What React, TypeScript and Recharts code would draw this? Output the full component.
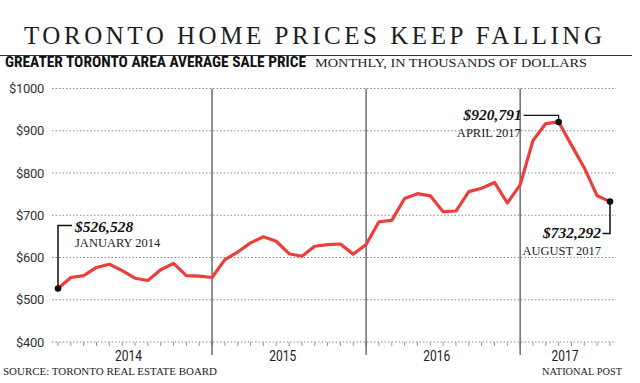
import { LineChart, Line, XAxis, YAxis, CartesianGrid, ReferenceLine } from 'recharts';

// GTA average sale price, thousands of dollars, Jan 2014 - Aug 2017
const years = ['2014', '2015', '2016', '2017'];
const monthsPerYear = [12, 12, 12, 8];
const prices = [
  526.5, 552.7, 557, 576.5, 584, 569, 551, 545.5, 571, 586, 557, 556,
  552.7, 595, 613, 634.5, 649, 638.5, 609, 603, 626.6, 630.6, 632, 608,
  630.6, 684.6, 688, 739.5, 751, 746, 708.5, 710, 756, 764, 777.6, 729,
  772, 877, 917, 920.8, 866, 812, 746, 732.3,
];
const yTicks = [400, 500, 600, 700, 800, 900, 1000];
const annotations = [
  { index: 0, amount: '$526,528', label: 'JANUARY 2014' },
  { index: 39, amount: '$920,791', label: 'APRIL 2017' },
  { index: 43, amount: '$732,292', label: 'AUGUST 2017' },
];

const data = prices.map((v, i) => ({ i, v }));
const yearStarts = monthsPerYear.map((_, k) => monthsPerYear.slice(0, k).reduce((a, b) => a + b, 0));
const yearMids = yearStarts.map((s, k) => s + (monthsPerYear[k] - 1) / 2);
const monthTicks = data.map((d) => d.i);

const SERIF = "'Liberation Serif', 'DejaVu Serif', serif";
const SANS = "Roboto, 'Liberation Sans', sans-serif";
const RED = '#ec3f3c';

const XTick = (props: any) => {
  const { x, y, payload } = props;
  const v = payload.value;
  if (!Number.isInteger(v)) {
    const k = yearMids.indexOf(v);
    return (
      <text x={x} y={y + 19} textAnchor="middle" fill="#222" fontSize={14} fontFamily={SANS}
        textLength={27} lengthAdjust="spacingAndGlyphs">
        {years[k]}
      </text>
    );
  }
  const divider = v > 0 && yearStarts.includes(v);
  return (
    <g>
      <line x1={x} x2={x} y1={y} y2={y + 4} stroke="#999" />
      {divider && <line x1={x} x2={x} y1={y} y2={y + 13} stroke="#555" strokeWidth={1.3} />}
    </g>
  );
};

const renderDot = (props: any) => {
  const { cx, cy, index } = props;
  const note = annotations.find((a) => a.index === index);
  if (!note) return <g key={index} />;
  const amt = { fontFamily: SERIF, fontStyle: 'italic', fontWeight: 700, fontSize: 15.5, fill: '#111' } as const;
  const lab = { fontFamily: SERIF, fontSize: 12.5, fill: '#222' } as const;
  if (index === 0) {
    return (
      <g key={index}>
        <path d={`M${cx},${cy} V${cy - 63} H${cx + 14}`} fill="none" stroke="#111" strokeWidth={1.5} />
        <circle cx={cx} cy={cy} r={3.3} fill="#111" />
        <text x={cx + 17} y={cy - 57} {...amt}>{note.amount}</text>
        <text x={cx + 17} y={cy - 42} {...lab}>{note.label}</text>
      </g>
    );
  }
  if (index === 39) {
    return (
      <g key={index}>
        <path d={`M${cx},${cy} V${cy - 6.5} H${cx - 35}`} fill="none" stroke="#111" strokeWidth={1.2} />
        <circle cx={cx} cy={cy} r={3.3} fill="#111" />
        <text x={cx - 37} y={cy - 1.5} textAnchor="end" {...amt}>{note.amount}</text>
        <text x={cx - 38} y={cy + 15} textAnchor="end" {...lab}>{note.label}</text>
      </g>
    );
  }
  return (
    <g key={index}>
      <path d={`M${cx},${cy} V${cy + 32} H${cx - 7.5}`} fill="none" stroke="#111" strokeWidth={1.5} />
      <circle cx={cx} cy={cy} r={3.3} fill="#111" />
      <text x={cx - 9} y={cy + 36.5} textAnchor="end" {...amt}>{note.amount}</text>
      <text x={cx - 9} y={cy + 53} textAnchor="end" {...lab}>{note.label}</text>
    </g>
  );
};

export default function App() {
  return (
    <div style={{ position: 'absolute', left: 0, top: 0, width: 640, height: 383, background: '#fff' }}>
      <LineChart width={640} height={383} data={data} margin={{ top: 88.5, right: 24, bottom: 11, left: 8 }}>
        <CartesianGrid vertical={false} stroke="#8a8a8a" strokeDasharray="1.5 2" />
        <XAxis
          dataKey="i"
          type="number"
          domain={[0, prices.length - 1]}
          ticks={[...monthTicks, ...yearMids]}
          padding={{ left: 6, right: 6 }}
          axisLine={false}
          tickLine={false}
          tickSize={0}
          tickMargin={0}
          height={30}
          interval={0}
          tick={<XTick />}
        />
        <YAxis
          domain={[400, 1000]}
          ticks={yTicks}
          width={44}
          axisLine={false}
          tickLine={false}
          tickFormatter={(v) => `$${v}`}
          tick={{ fill: '#333', fontSize: 13, fontFamily: SANS, letterSpacing: -0.3 }}
        />
        {yearStarts.slice(1).map((s) => (
          <ReferenceLine key={s} x={s} stroke="#555" strokeWidth={1.3} />
        ))}
        <Line
          type="linear"
          dataKey="v"
          stroke={RED}
          strokeWidth={3.2}
          strokeLinejoin="round"
          dot={renderDot}
          activeDot={false}
          isAnimationActive={false}
        />
      </LineChart>
      <svg width={640} height={383} style={{ position: 'absolute', left: 0, top: 0, pointerEvents: 'none' }}>
        <text x={24} y={44.3} fontFamily={SERIF} fontSize={25} fill="#1e1e1e" textLength={578} lengthAdjust="spacing">
          TORONTO HOME PRICES KEEP FALLING
        </text>
        <line x1={0} x2={632} y1={55.5} y2={55.5} stroke="#333" strokeWidth={1} />
        <text x={5} y={66.7} fontFamily={"'Liberation Sans Narrow', 'Roboto Condensed', Roboto, sans-serif"} fontWeight={700}
          fontSize={14} fill="#111" textLength={301} lengthAdjust="spacingAndGlyphs">
          GREATER TORONTO AREA AVERAGE SALE PRICE
        </text>
        <text x={315} y={66.7} fontFamily={SERIF} fontSize={11.5} fill="#222" textLength={272} lengthAdjust="spacingAndGlyphs">
          MONTHLY, IN THOUSANDS OF DOLLARS
        </text>
        <text x={3} y={374.5} fontFamily={SERIF} fontSize={10.5} fill="#222" textLength={214} lengthAdjust="spacingAndGlyphs">
          SOURCE: TORONTO REAL ESTATE BOARD
        </text>
        <text x={542} y={374.5} fontFamily={SERIF} fontSize={10.5} fill="#222" textLength={80} lengthAdjust="spacingAndGlyphs">
          NATIONAL POST
        </text>
      </svg>
    </div>
  );
}
